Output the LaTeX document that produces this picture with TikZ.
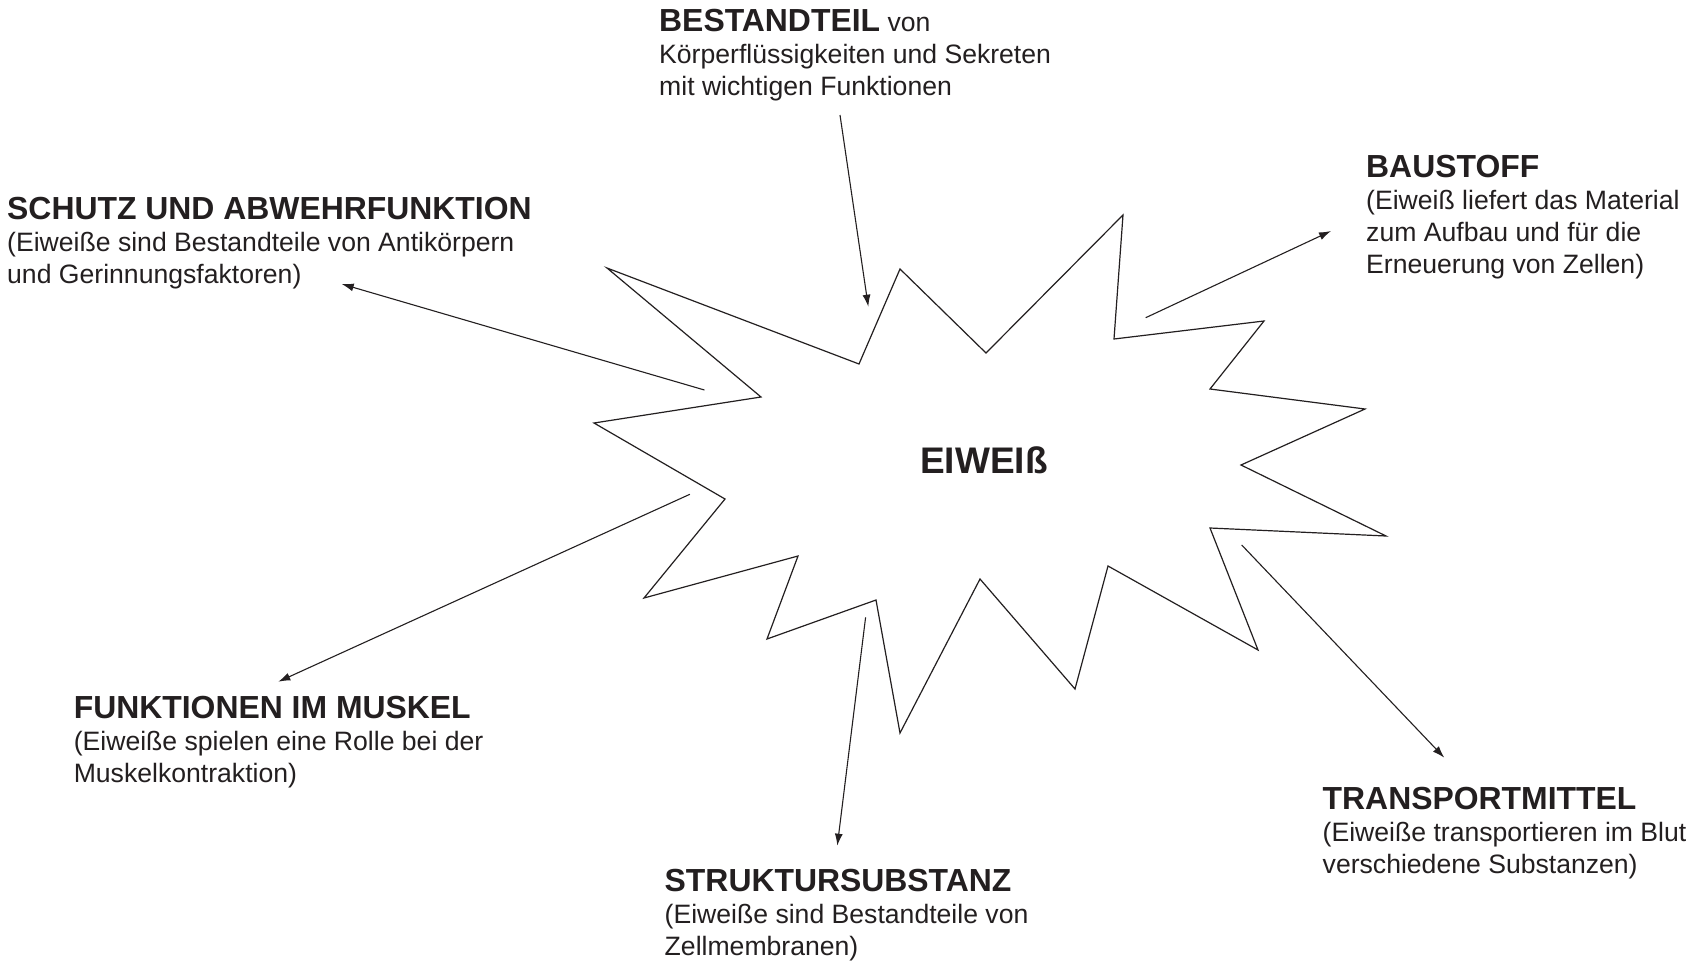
\documentclass[tikz,border=0pt]{standalone}
\usepackage{fontspec}
\setmainfont{Liberation Sans}
\usetikzlibrary{arrows.meta}
\definecolor{ink}{RGB}{35,31,32}
\newcommand\headtxt[1]{{\bfseries\fontsize{31.9pt}{32pt}\selectfont #1}}
\begin{document}
\begin{tikzpicture}[x=1pt,y=-1pt,
  lbl/.style={anchor=base west, inner sep=0pt, align=left, text=ink, font=\fontsize{26.6pt}{32pt}\selectfont},
  arr/.style={-{Latex[length=12pt,width=8pt]}, line width=1.1pt, draw=ink},
  starline/.style={draw=ink, line width=1.2pt, line join=miter}]
\fill[white] (0,0) rectangle (1697,964);
\useasboundingbox (0,0) rectangle (1697,964);

% star outline
\draw[starline] (607,268) -- (859,364) -- (900,269) -- (986,353) -- (1123,215) -- (1114,339)
  -- (1264,321) -- (1210,389) -- (1365,409) -- (1241,465) -- (1386,536) -- (1210,528)
  -- (1258,650) -- (1108,566) -- (1075,689) -- (980,579) -- (900,733) -- (876,600)
  -- (767,639) -- (798,556) -- (644,598) -- (725,499) -- (594,423) -- (761,397) -- cycle;

\node[anchor=base west, inner sep=0pt, text=ink, font=\bfseries\fontsize{37pt}{40pt}\selectfont] (eiweiss) at (920,473) {EIWEIß};

% labels (anchor = baseline of the last line)
\node[lbl] (bestandteil) at (659,95.5) {\headtxt{BESTANDTEIL} von\\Körperflüssigkeiten und Sekreten\\mit wichtigen Funktionen};
\node[lbl] (schutz) at (7,283.5) {\headtxt{SCHUTZ UND ABWEHRFUNKTION}\\(Eiweiße sind Bestandteile von Antikörpern\\und Gerinnungsfaktoren)};
\node[lbl] (baustoff) at (1366,273) {\headtxt{BAUSTOFF}\\(Eiweiß liefert das Material\\zum Aufbau und für die\\Erneuerung von Zellen)};
\node[lbl] (muskel) at (73.6,782.5) {\headtxt{FUNKTIONEN IM MUSKEL}\\(Eiweiße spielen eine Rolle bei der\\Muskelkontraktion)};
\node[lbl] (struktur) at (664.5,955) {\headtxt{STRUKTURSUBSTANZ}\\(Eiweiße sind Bestandteile von\\Zellmembranen)};
\node[lbl] (transport) at (1322.5,873) {\headtxt{TRANSPORTMITTEL}\\(Eiweiße transportieren im Blut\\verschiedene Substanzen)};

% arrow end points
\coordinate (bS) at (840,115);    \coordinate (bE) at (868.3,306.7);
\coordinate (sS) at (704.4,390);  \coordinate (sE) at (341.7,284);
\coordinate (aS) at (1145.7,317.7); \coordinate (aE) at (1331,231);
\coordinate (mS) at (689.8,494.3); \coordinate (mE) at (278.3,681.7);
\coordinate (kS) at (865.6,617.3); \coordinate (kE) at (837.3,845.7);
\coordinate (tS) at (1241.7,545); \coordinate (tE) at (1444.3,757.7);

\draw[arr] (bS) -- (bE);
\draw[arr] (sS) -- (sE);
\draw[arr] (aS) -- (aE);
\draw[arr] (mS) -- (mE);
\draw[arr] (kS) -- (kE);
\draw[arr] (tS) -- (tE);
\end{tikzpicture}
\end{document}
